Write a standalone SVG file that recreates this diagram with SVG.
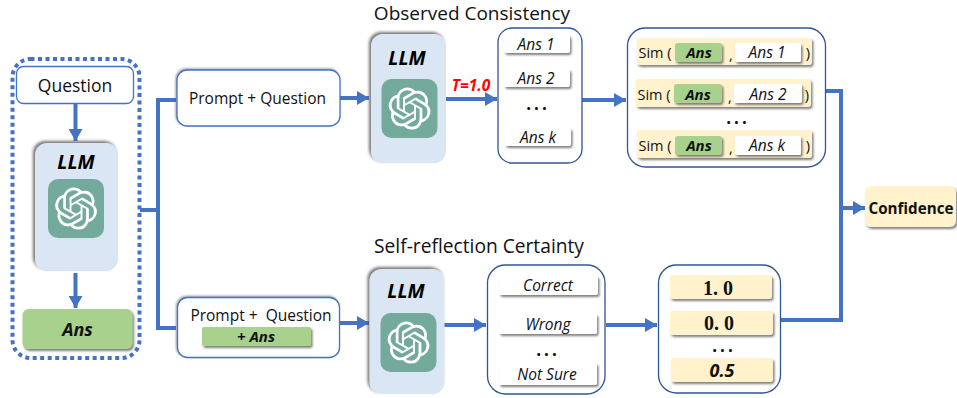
<svg xmlns="http://www.w3.org/2000/svg" xmlns:xlink="http://www.w3.org/1999/xlink" width="957" height="398" viewBox="0 0 957 398">
<defs>
<style>
text{font-family:"Open Sans","Noto Sans","DejaVu Sans",sans-serif;fill:#111;text-anchor:middle;white-space:pre}
.t17{font-size:15.5px}
.sim{font-size:14.500px}
.it{font-style:italic;font-size:15.500px}
.bi{font-style:italic;font-weight:700;font-size:15px}
.frame{fill:#fff;stroke:#2F5597;stroke-width:1.3}
.pbox{fill:#fff;stroke:#4472C4;stroke-width:1.3}
.llm{fill:#DAE6F3;filter:url(#sl)}
.llml{font-style:italic;font-weight:700;font-size:19.500px;fill:#000}
.green{fill:#A9D18E;filter:url(#s)}
.white{fill:#fff;filter:url(#s)}
.cream{fill:#FFF2CC;filter:url(#s)}
.num{font-family:"Liberation Serif",serif;font-weight:700;font-size:20px}
.dots{font-weight:700;font-size:17px;letter-spacing:3px}
.wire{fill:none;stroke:#4472C4;stroke-width:4}
</style>
<filter id="s" x="-20%" y="-30%" width="140%" height="170%"><feDropShadow dx="1.5" dy="2" stdDeviation="1" flood-color="#555" flood-opacity=".75"/></filter>
<filter id="sl" x="-20%" y="-20%" width="140%" height="140%"><feDropShadow dx="-2" dy="-2" stdDeviation="1.5" flood-color="#555" flood-opacity=".8"/></filter>
<filter id="sg" x="-10%" y="-20%" width="120%" height="140%"><feDropShadow dx="-1" dy="-1" stdDeviation="1" flood-color="#555" flood-opacity=".55"/></filter>
<marker id="a" markerUnits="userSpaceOnUse" markerWidth="13" markerHeight="14" refX="12" refY="7" orient="auto"><path d="M0 0L12 7L0 14Z" fill="#4472C4"/></marker>
<g id="logo">
<rect x="-28" y="-30" width="56" height="59" rx="10" fill="#74AA9C"/>
<path transform="translate(-21 -21.500) scale(1.75)" fill="#fff" d="M22.2819 9.8211a5.9847 5.9847 0 0 0-.5157-4.9108 6.0462 6.0462 0 0 0-6.5098-2.9A6.0651 6.0651 0 0 0 4.9807 4.1818a5.9847 5.9847 0 0 0-3.9977 2.9 6.0462 6.0462 0 0 0 .7427 7.0966 5.98 5.98 0 0 0 .511 4.9107 6.051 6.051 0 0 0 6.5146 2.9001A5.9847 5.9847 0 0 0 13.2599 24a6.0557 6.0557 0 0 0 5.7718-4.2058 5.9894 5.9894 0 0 0 3.9977-2.9001 6.0557 6.0557 0 0 0-.7475-7.0729zm-9.022 12.6081a4.4755 4.4755 0 0 1-2.8764-1.0408l.1419-.0804 4.7783-2.7582a.7948.7948 0 0 0 .3927-.6813v-6.7369l2.02 1.1686a.071.071 0 0 1 .038.052v5.5826a4.504 4.504 0 0 1-4.4945 4.4944zm-9.6607-4.1254a4.4708 4.4708 0 0 1-.5346-3.0137l.142.0852 4.783 2.7582a.7712.7712 0 0 0 .7806 0l5.8428-3.3685v2.3324a.0804.0804 0 0 1-.0332.0615L9.74 19.9502a4.4992 4.4992 0 0 1-6.1408-1.6464zM2.3408 7.8956a4.485 4.485 0 0 1 2.3655-1.9728V11.6a.7664.7664 0 0 0 .3879.6765l5.8144 3.3543-2.0201 1.1685a.0757.0757 0 0 1-.071 0l-4.8303-2.7865A4.504 4.504 0 0 1 2.3408 7.872zm16.5963 3.8558L13.1038 8.364 15.1192 7.2a.0757.0757 0 0 1 .071 0l4.8303 2.7913a4.4944 4.4944 0 0 1-.6765 8.1042v-5.6772a.79.79 0 0 0-.407-.667zm2.0107-3.0231l-.142-.0852-4.7735-2.7818a.7759.7759 0 0 0-.7854 0L9.409 9.2297V6.8974a.0662.0662 0 0 1 .0284-.0615l4.8303-2.7866a4.4992 4.4992 0 0 1 6.6802 4.66zM8.3065 12.863l-2.02-1.1638a.0804.0804 0 0 1-.038-.0567V6.0742a4.4992 4.4992 0 0 1 7.3757-3.4537l-.142.0805L8.704 5.459a.7948.7948 0 0 0-.3927.6813zm1.0976-2.3654l2.602-1.4998 2.6069 1.4998v2.9994l-2.5974 1.4997-2.6067-1.4997Z"/>
</g>
</defs>
<rect width="957" height="398" fill="#fff"/>
<g id="connectors">
<path class="wire" d="M140 210H158M176 100H158V328H176"/>
<path class="wire" marker-end="url(#a)" d="M75.500 104V141"/>
<path class="wire" marker-end="url(#a)" d="M75.500 273V308"/>
<path class="wire" marker-end="url(#a)" d="M340 98H369"/>
<path class="wire" marker-end="url(#a)" d="M446 99H497"/>
<path class="wire" marker-end="url(#a)" d="M582 100H626"/>
<path class="wire" marker-end="url(#a)" d="M339 323H369"/>
<path class="wire" marker-end="url(#a)" d="M444 325H486"/>
<path class="wire" marker-end="url(#a)" d="M606 325H657"/>
<path class="wire" d="M826 91H841V320H780"/>
<path class="wire" marker-end="url(#a)" d="M841 208H865"/>
</g>
<g id="input-group">
<rect x="12.500" y="59" width="127" height="299" rx="18" fill="none" stroke="#4472C4" stroke-width="4" stroke-dasharray="4 3.500"/>
</g>
<g id="question"><rect class="pbox" x="16.500" y="66.500" width="117" height="37" rx="7"/><text x="75" y="92" style="font-size:17.500px">Question</text></g>
<g id="llm-1"><rect class="llm" x="35" y="143" width="83" height="128" rx="12"/><text class="llml" x="76" y="169">LLM</text><use xlink:href="#logo" x="76" y="209"/></g>
<g id="ans"><rect class="green" x="22.500" y="309" width="110" height="40" rx="6"/><text class="bi" x="77.500" y="336" style="font-size:18px">Ans</text></g>
<g id="prompt-top"><rect class="pbox" x="177" y="70" width="163" height="56" rx="10" filter="url(#sg)"/><text class="t17" x="257.500" y="104">Prompt + Question</text></g>
<g id="llm-2"><rect class="llm" x="371" y="34" width="75" height="129" rx="12"/><text class="llml" x="407" y="65">LLM</text><use xlink:href="#logo" x="409.500" y="109"/></g>
<g id="temperature"><text x="471" y="91" style="font-weight:700;font-style:italic;font-size:15.500px;fill:#FF0000">T=1.0</text></g>
<g id="answers"><rect class="frame" x="498" y="28" width="84" height="135" rx="14"/>
<rect class="white" x="504" y="35" width="66" height="18" rx="2"/><text class="it" x="536" y="50">Ans 1</text>
<rect class="white" x="504" y="69" width="66" height="18" rx="2"/><text class="it" x="536" y="84">Ans 2</text>
<text class="dots" x="538" y="110">...</text>
<rect class="white" x="505" y="128" width="66" height="18" rx="2"/><text class="it" x="538" y="143">Ans k</text></g>
<g id="sim"><rect class="frame" x="627.500" y="28" width="198" height="139" rx="18"/>
<rect class="cream" x="637" y="38" width="175" height="27" rx="3"/><text class="sim" x="655" y="58">Sim (</text><rect class="green" x="675" y="43" width="47" height="19" rx="3"/><text class="bi" x="699" y="58">Ans</text><text class="sim" x="731" y="60">,</text><rect class="white" x="735" y="43" width="66" height="19" rx="2"/><text class="it" x="767" y="58">Ans 1</text><text class="sim" x="808" y="58">)</text>
<rect class="cream" x="636" y="79" width="175" height="28" rx="3"/><text class="sim" x="654" y="100">Sim (</text><rect class="green" x="674" y="84" width="48" height="19" rx="3"/><text class="bi" x="698" y="100">Ans</text><text class="sim" x="730" y="102">,</text><rect class="white" x="734" y="84" width="68" height="19" rx="2"/><text class="it" x="768" y="100">Ans 2</text><text class="sim" x="807" y="100">)</text>
<text class="dots" x="738" y="124">...</text>
<rect class="cream" x="637" y="130" width="175" height="28" rx="3"/><text class="sim" x="655" y="151">Sim (</text><rect class="green" x="675" y="136" width="47" height="19" rx="3"/><text class="bi" x="699" y="151">Ans</text><text class="sim" x="731" y="153">,</text><rect class="white" x="735" y="136" width="66" height="19" rx="2"/><text class="it" x="767" y="151">Ans k</text><text class="sim" x="808" y="151">)</text></g>
<g id="confidence"><rect class="cream" x="865" y="186" width="91" height="41" rx="6"/><text x="911" y="214" style="font-weight:700;font-size:15.200px">Confidence</text></g>
<g id="prompt-bottom"><rect class="pbox" x="177.500" y="297.500" width="162" height="60" rx="10" filter="url(#sg)"/><text x="261" y="321" style="font-size:15.500px">Prompt +  Question</text><rect class="green" x="202" y="327" width="109" height="19" rx="2"/><text class="bi" x="256" y="342" style="font-size:15px">+ Ans</text></g>
<g id="llm-3"><rect class="llm" x="369.500" y="269" width="75" height="125" rx="12"/><text class="llml" x="406" y="298">LLM</text><use xlink:href="#logo" x="408.500" y="343"/></g>
<g id="reflections"><rect class="frame" x="487.500" y="265" width="117.500" height="129" rx="18"/>
<rect class="white" x="499" y="276" width="99" height="19" rx="2"/><text class="it" x="548" y="291">Correct</text>
<rect class="white" x="499" y="314" width="98" height="20" rx="2"/><text class="it" x="548" y="330">Wrong</text>
<text class="dots" x="548" y="356">...</text>
<rect class="white" x="499" y="363" width="98" height="22" rx="2"/><text class="it" x="547" y="380">Not Sure</text></g>
<g id="scores"><rect class="frame" x="658.500" y="265" width="122" height="128" rx="18"/>
<rect class="cream" x="670" y="275" width="102" height="24" rx="3"/><text class="num" x="718" y="295">1. 0</text>
<rect class="cream" x="670" y="311" width="103" height="24" rx="3"/><text class="num" x="719" y="330">0. 0</text>
<text class="dots" x="724" y="352">...</text>
<rect class="cream" x="671" y="358" width="102" height="24" rx="3"/><text class="bi" x="722" y="377" style="font-size:18px">0.5</text></g>
<g id="titles"><text x="472" y="20" style="font-size:19px">Observed Consistency</text><text x="479" y="253" style="font-size:19.200px">Self-reflection Certainty</text></g>
</svg>
